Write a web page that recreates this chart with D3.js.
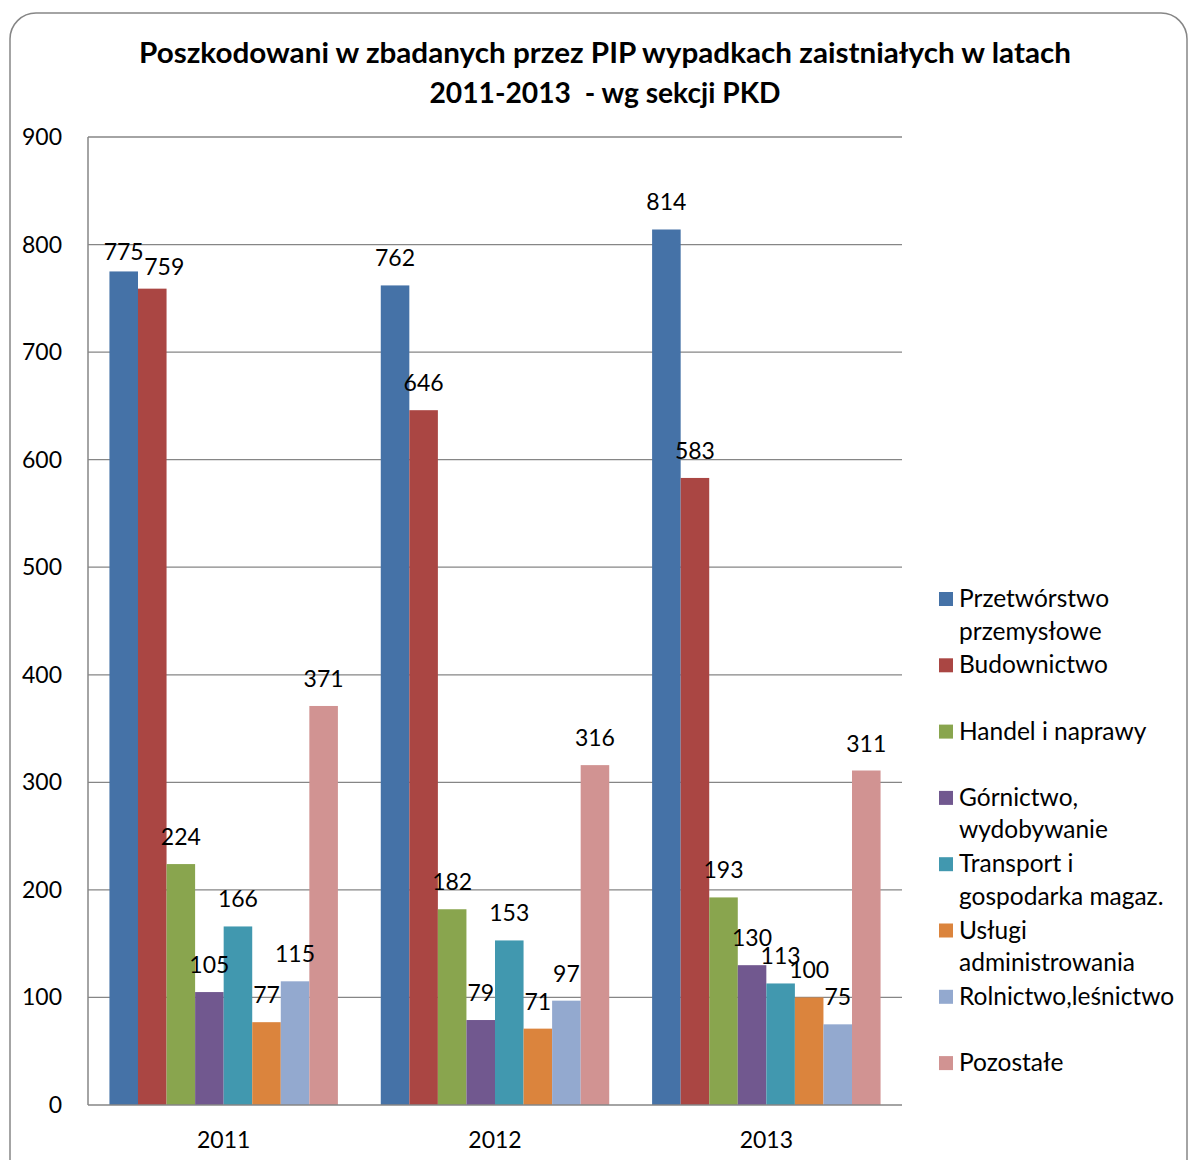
<!DOCTYPE html>
<html><head><meta charset="utf-8">
<script src="https://cdn.jsdelivr.net/npm/d3@7"></script>
<style>body{margin:0;background:#fff;} text{font-family:Lato,"Open Sans",sans-serif;fill:#000;}</style>
</head><body>
<svg id="c" width="1189" height="1160"></svg>
<script>
const years = ["2011", "2012", "2013"];
const seriesNames = ["Przetwórstwo przemysłowe", "Budownictwo", "Handel i naprawy", "Górnictwo, wydobywanie", "Transport i gospodarka magaz.", "Usługi administrowania", "Rolnictwo,leśnictwo", "Pozostałe"];
const legendLines = [["Przetwórstwo","przemysłowe"],["Budownictwo"],["Handel i naprawy"],["Górnictwo,","wydobywanie"],["Transport i","gospodarka magaz."],["Usługi","administrowania"],["Rolnictwo,leśnictwo"],["Pozostałe"]];
const colors = ["#4572A7", "#AA4643", "#89A54E", "#71588F", "#4198AF", "#DB843D", "#93A9CF", "#D19392"];
const przetworstwo = [775, 762, 814];
const budownictwo = [759, 646, 583];
const handel = [224, 182, 193];
const gornictwo = [105, 79, 130];
const transport = [166, 153, 113];
const uslugi = [77, 71, 100];
const rolnictwo = [115, 97, 75];
const pozostale = [371, 316, 311];
const values = [przetworstwo, budownictwo, handel, gornictwo, transport, uslugi, rolnictwo, pozostale];
const yTicks = [0,100,200,300,400,500,600,700,800,900];

const svg = d3.select("#c");
// frame
svg.append("rect").attr("x",10).attr("y",13).attr("width",1177).attr("height",1180)
  .attr("rx",26).attr("ry",26).attr("fill","#fff").attr("stroke","#868686").attr("stroke-width",1.5);

const L=88, R=902, T=137, B=1105;
const y = d3.scaleLinear().domain([0,900]).range([B,T]);
const x0 = d3.scaleBand().domain(years).range([L,R]).paddingInner(0.158).paddingOuter(0.079);
const x1 = d3.scaleBand().domain(d3.range(seriesNames.length)).range([0,x0.bandwidth()]);

// gridlines
svg.append("g").selectAll("line").data(yTicks.filter(d=>d>0)).join("line")
  .attr("x1",L).attr("x2",R).attr("y1",d=>y(d)).attr("y2",d=>y(d))
  .attr("stroke","#868686").attr("stroke-width",1.3);

// y axis labels
svg.append("g").selectAll("text").data(yTicks).join("text")
  .attr("x",62).attr("y",d=>y(d)+8).attr("text-anchor","end")
  .attr("font-size",23).text(d=>d);

// bars
const gBars = svg.append("g");
years.forEach((yr,yi)=>{
  seriesNames.forEach((s,si)=>{
    gBars.append("rect")
      .attr("x", x0(yr)+x1(si)).attr("width", x1.bandwidth())
      .attr("y", y(values[si][yi])).attr("height", B - y(values[si][yi]))
      .attr("fill", colors[si]);
  });
});

// axes lines
svg.append("line").attr("x1",L).attr("x2",L).attr("y1",T).attr("y2",B).attr("stroke","#868686").attr("stroke-width",1.5);
svg.append("line").attr("x1",L).attr("x2",R).attr("y1",B).attr("y2",B).attr("stroke","#868686").attr("stroke-width",1.5);

// value labels (two labels were moved by hand in the original)
const labelShift = {"0-0":[0,8], "1-0":[12,5]};
const gLab = svg.append("g");
years.forEach((yr,yi)=>{
  seriesNames.forEach((s,si)=>{
    const sh = labelShift[si+"-"+yi] || [0,0];
    gLab.append("text")
      .attr("x", x0(yr)+x1(si)+x1.bandwidth()/2 + sh[0])
      .attr("y", y(values[si][yi]) - 19 + sh[1])
      .attr("text-anchor","middle").attr("font-size",23)
      .text(values[si][yi]);
  });
});

// x labels
svg.append("g").selectAll("text").data(years).join("text")
  .attr("x",d=>x0(d)+x0.bandwidth()/2).attr("y",1148).attr("text-anchor","middle")
  .attr("font-size",23).text(d=>d);

// title
svg.append("text").attr("x",605).attr("y",63).attr("text-anchor","middle")
  .attr("font-size",28).attr("font-weight","bold")
  .attr("textLength",932).attr("lengthAdjust","spacingAndGlyphs")
  .text("Poszkodowani w zbadanych przez PIP wypadkach zaistniałych w latach");
svg.append("text").attr("x",605).attr("y",103).attr("text-anchor","middle")
  .attr("font-size",28).attr("font-weight","bold").attr("xml:space","preserve")
  .attr("textLength",351).attr("lengthAdjust","spacingAndGlyphs")
  .text("2011-2013  - wg sekcji PKD");

// legend
const lg = svg.append("g");
legendLines.forEach((lines,i)=>{
  const by = 607 + i*66.3;
  lg.append("rect").attr("x",939).attr("y",by-15).attr("width",14).attr("height",14).attr("fill",colors[i]);
  lines.forEach((t,j)=>{
    lg.append("text").attr("x",959).attr("y",by+j*32.5).attr("font-size",24.5).text(t);
  });
});
</script>
</body></html>
